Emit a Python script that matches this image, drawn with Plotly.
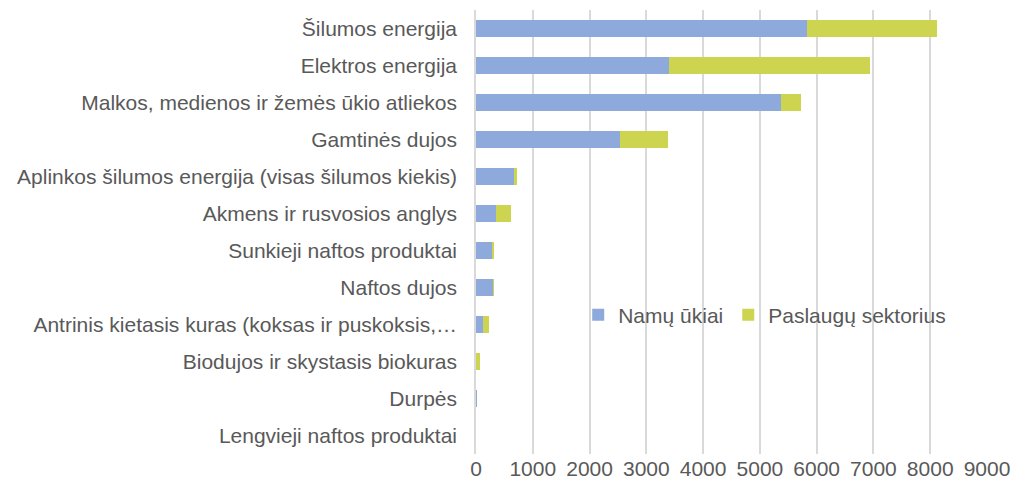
import plotly.graph_objects as go

categories = [
    "Šilumos energija",
    "Elektros energija",
    "Malkos, medienos ir žemės ūkio atliekos",
    "Gamtinės dujos",
    "Aplinkos šilumos energija (visas šilumos kiekis)",
    "Akmens ir rusvosios anglys",
    "Sunkieji naftos produktai",
    "Naftos dujos",
    "Antrinis kietasis kuras (koksas ir puskoksis,…",
    "Biodujos ir skystasis biokuras",
    "Durpės",
    "Lengvieji naftos produktai",
]
namu_ukiai = [5830, 3405, 5365, 2540, 685, 350, 292, 310, 130, 8, 2, 0]
paslaugu_sektorius = [2295, 3535, 360, 845, 35, 275, 30, 5, 100, 57, 0, 0]
x_ticks = [0, 1000, 2000, 3000, 4000, 5000, 6000, 7000, 8000, 9000]

fig = go.Figure()
fig.add_trace(go.Bar(y=categories, x=namu_ukiai, orientation="h", name="Namų ūkiai",
                     marker=dict(color="#8eaadc", line=dict(width=0))))
fig.add_trace(go.Bar(y=categories, x=paslaugu_sektorius, orientation="h", name="Paslaugų sektorius",
                     marker=dict(color="#cdd44f", line=dict(width=0))))

font_color = "#595959"
fig.update_layout(
    width=1011, height=488,
    barmode="stack", bargap=0.56,
    plot_bgcolor="white", paper_bgcolor="white",
    margin=dict(l=476, r=24, t=10, b=34),
    font=dict(family="Liberation Sans, Arial, sans-serif", size=21, color=font_color),
    legend=dict(orientation="h", x=0.2, y=0.313, xanchor="left", yanchor="middle",
                bgcolor="rgba(0,0,0,0)", font=dict(size=21, color=font_color),
                traceorder="normal", itemwidth=30),
    xaxis=dict(range=[0, 9000], tickvals=x_ticks, showgrid=True, gridcolor="#d9d9d9", gridwidth=1.5,
               zeroline=False, showline=False, ticks="", automargin=False,
               tickfont=dict(size=21, color=font_color)),
    yaxis=dict(categoryorder="array", categoryarray=categories[::-1], automargin=False,
               showgrid=False, zeroline=False, showline=True, linecolor="#d9d9d9", linewidth=1.5,
               ticks="outside", ticklen=13, tickcolor="rgba(0,0,0,0)",
               tickfont=dict(size=21, color=font_color)),
)
fig.write_html("out.html", config={"displayModeBar": False},
               post_script="document.body.style.margin='0px';")
